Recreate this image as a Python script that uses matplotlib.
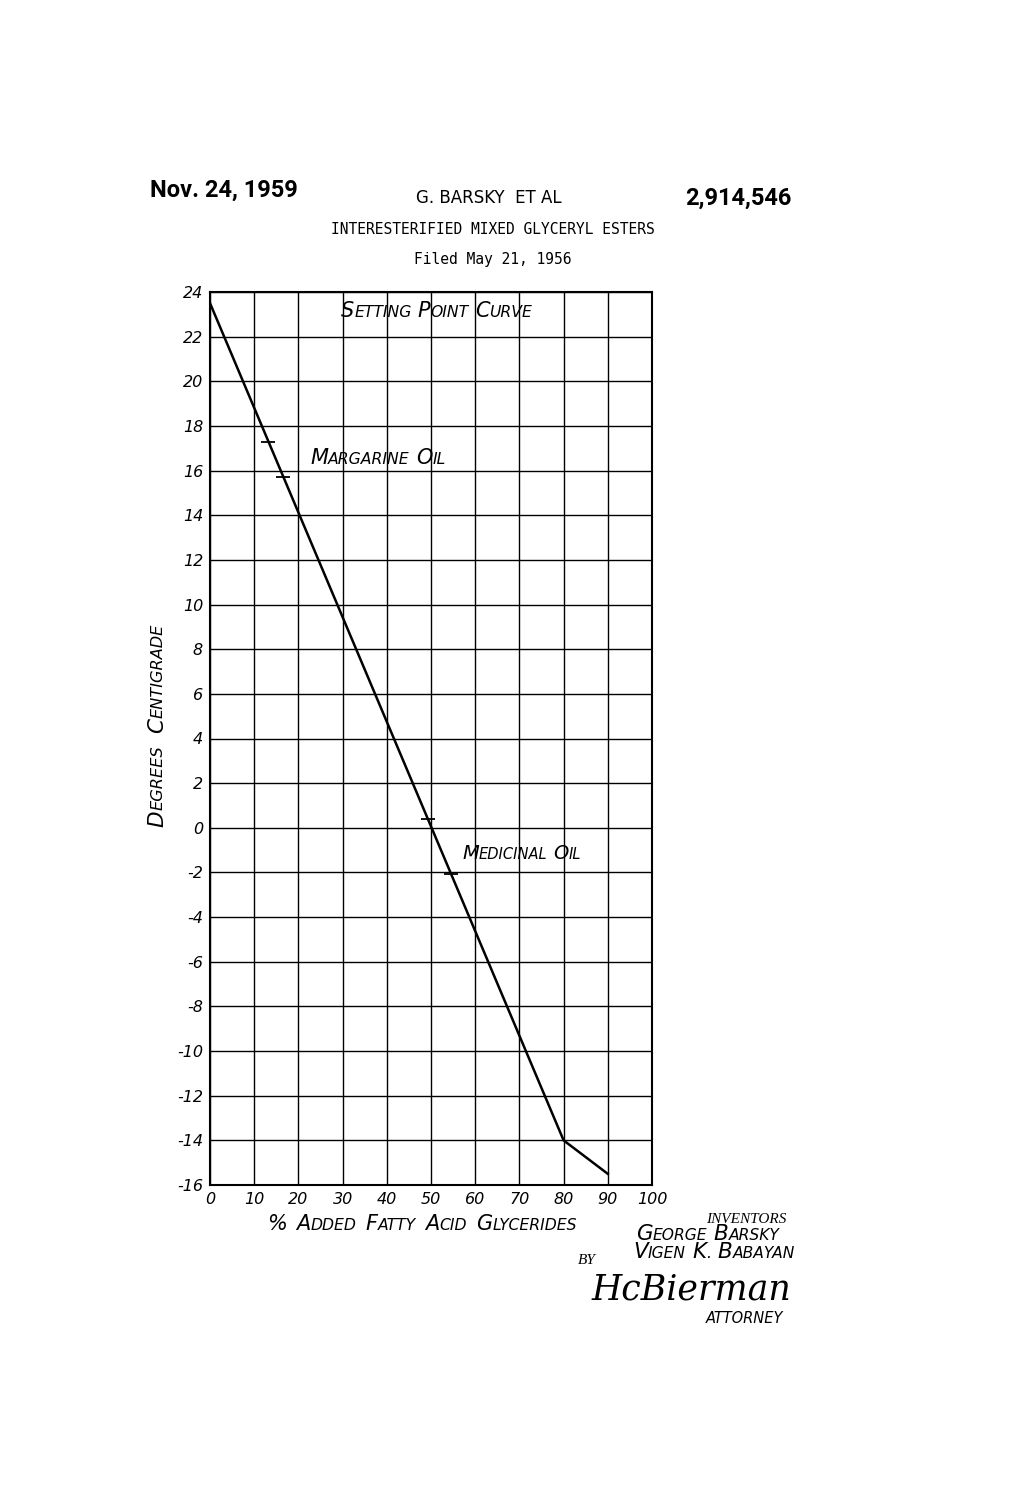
import matplotlib
matplotlib.use('Agg')
import matplotlib.pyplot as plt
import matplotlib.transforms as mtransforms

# setting point curve
pct = [0, 80, 90]
temp = [23.5, -14.0, -15.5]

# short cross marks on the curve
marg_x = [13.2, 16.6]
marg_y = [17.3, 15.7]
med_x = [49.3, 54.5]
med_y = [0.4, -2.05]

xticks = [0, 10, 20, 30, 40, 50, 60, 70, 80, 90, 100]
xlabels = ['0', '10', '20', '30', '40', '50', '60', '70', '80', '90', '100']
yticks = [-16, -14, -12, -10, -8, -6, -4, -2, 0, 2, 4, 6, 8, 10, 12, 14, 16, 18, 20, 22, 24]
ylabels = ['-16', '-14', '-12', '-10', '-8', '-6', '-4', '-2', '0', '2', '4', '6',
           '8', '10', '12', '14', '16', '18', '20', '22', '24']

HAND = dict(family='DejaVu Sans', style='italic', color='black')

fig = plt.figure(figsize=(10.2, 14.98), dpi=100)
fig.patch.set_facecolor('white')
ax = fig.add_axes([210 / 1020, 1 - 1185 / 1498, 442 / 1020, 893 / 1498])

ax.plot(pct, temp, color='black', lw=1.8, solid_joinstyle='miter')
ax.plot(marg_x, marg_y, ls='none', marker='_', ms=10, mew=1.3, color='black')
ax.plot(med_x, med_y, ls='none', marker='_', ms=10, mew=1.3, color='black')

ax.set_xlim(0, 100)
ax.set_ylim(-16, 24)
ax.set_xticks(xticks)
ax.set_xticklabels(xlabels, fontsize=11.5, **HAND)
ax.set_yticks(yticks)
ax.set_yticklabels(ylabels, fontsize=11.5, **HAND)
ax.tick_params(length=0, pad=5)
ax.grid(True, color='black', lw=1.0)
for sp in ax.spines.values():
    sp.set_linewidth(1.5)

renderer = fig.canvas.get_renderer()


def small_caps(x, y, s, size, rot=0, ha='left', gap=0.3, ratio=0.75, transform=None):
    # first letter of each word large, the rest smaller
    if transform is None:
        transform = fig.transFigure
    pieces = []
    for i, word in enumerate(s.split(' ')):
        if i > 0:
            pieces.append((' ', size))
        if word[0].isalpha():
            pieces.append((word[0], size))
            if len(word) > 1:
                pieces.append((word[1:], size * ratio))
        else:
            pieces.append((word, size))
    texts = []
    widths = []
    for txt, sz in pieces:
        if txt == ' ':
            texts.append(None)
            widths.append(gap * size * fig.dpi / 72)
            continue
        t = fig.text(0, 0, txt, fontsize=sz, ha='left', va='baseline', **HAND)
        widths.append(t.get_window_extent(renderer).width)
        texts.append(t)
    total = sum(widths)
    start = -total / 2 if ha == 'center' else 0
    pos = start
    for t, w in zip(texts, widths):
        if t is not None:
            if rot == 90:
                off = mtransforms.offset_copy(transform, fig=fig, x=0, y=pos, units='dots')
            else:
                off = mtransforms.offset_copy(transform, fig=fig, x=pos, y=0, units='dots')
            t.set_transform(off)
            t.set_position((x, y))
            t.set_rotation(rot)
            t.set_rotation_mode('anchor')
        pos += w


def fx(px):
    return px / 1020


def fy(py):
    return 1 - py / 1498


# header
fig.text(fx(150), fy(197), 'Nov. 24, 1959', fontsize=17, fontweight='bold',
         family=['Roboto', 'DejaVu Sans'], ha='left', va='baseline')
fig.text(fx(489), fy(203), 'G. BARSKY  ET AL', fontsize=12,
         family='DejaVu Sans', ha='center', va='baseline')
fig.text(fx(792), fy(205), '2,914,546', fontsize=17, fontweight='bold',
         family=['Roboto', 'DejaVu Sans'], ha='right', va='baseline')
fig.text(fx(493), fy(234), 'INTERESTERIFIED MIXED GLYCERYL ESTERS', fontsize=10.5,
         family='DejaVu Sans Mono', ha='center', va='baseline')
fig.text(fx(493), fy(264), 'Filed May 21, 1956', fontsize=10.5,
         family='DejaVu Sans Mono', ha='center', va='baseline')

# chart labels
small_caps(fx(341), fy(317), 'SETTING POINT CURVE', 15)
small_caps(fx(310), fy(464), 'MARGARINE OIL', 15)
small_caps(fx(462), fy(859), 'MEDICINAL OIL', 14)
small_caps(fx(422), fy(1230), '% ADDED FATTY ACID GLYCERIDES', 15, ha='center', gap=0.45)
small_caps(fx(163), fy(725), 'DEGREES CENTIGRADE', 15.5, rot=90, ha='center', gap=0.6)

# inventors block
fig.text(fx(786), fy(1223), 'INVENTORS', fontsize=11, style='italic',
         family='Liberation Serif', ha='right', va='baseline')
small_caps(fx(636), fy(1240), 'GEORGE BARSKY', 15.5, ratio=0.72)
small_caps(fx(633), fy(1258), 'VIGEN K. BABAYAN', 15.5, ratio=0.72)
fig.text(fx(578), fy(1264), 'BY', fontsize=11, style='italic',
         family='Liberation Serif', ha='left', va='baseline')
fig.text(fx(592), fy(1300), 'HcBierman', fontsize=25, style='italic',
         family='DejaVu Serif', ha='left', va='baseline')
fig.text(fx(706), fy(1323), 'ATTORNEY', fontsize=10.5, ha='left', va='baseline', **HAND)

fig.savefig('out.png', dpi=100, facecolor='white')
